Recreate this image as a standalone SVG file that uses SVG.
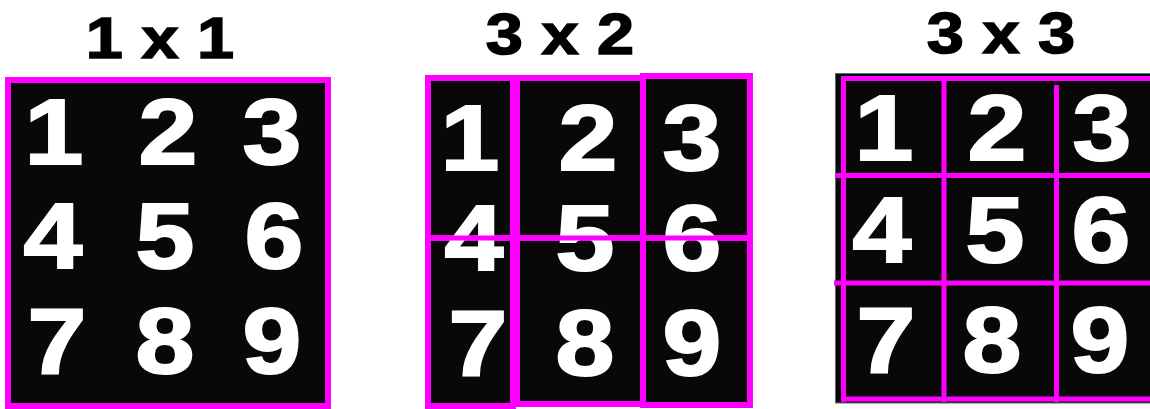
<svg xmlns="http://www.w3.org/2000/svg" width="1150" height="409" viewBox="0 0 1150 409">
<style>
.title{font-family:"Liberation Sans",Arial,sans-serif;font-weight:bold;font-size:58px;fill:#000;stroke:#000;stroke-width:1.5;text-anchor:middle}
.dig{font-family:"Liberation Sans",Arial,sans-serif;font-weight:bold;font-size:92px;fill:#fff;stroke:#fff;stroke-width:2;text-anchor:middle}
.cell{fill:#080808;stroke:#ff00ff;stroke-width:6}
.mline{stroke:#ff00ff;stroke-width:5;fill:none}
</style>
<rect width="1150" height="409" fill="#fff"/>

<g id="panel-1x1">
<text class="title" transform="translate(160,58) scale(1.15,1)">1 x 1</text>
<rect class="cell" x="8" y="80" width="320" height="326"/>
<g id="p1-digits">
<text class="dig" transform="translate(54,164) scale(1.15,1)">1</text>
<text class="dig" transform="translate(168,164) scale(1.15,1)">2</text>
<text class="dig" transform="translate(272,164) scale(1.15,1)">3</text>
<text class="dig" transform="translate(53,268) scale(1.15,1)">4</text>
<text class="dig" transform="translate(165,268) scale(1.15,1)">5</text>
<text class="dig" transform="translate(274,268) scale(1.15,1)">6</text>
<text class="dig" transform="translate(57,373) scale(1.15,1)">7</text>
<text class="dig" transform="translate(165,373) scale(1.15,1)">8</text>
<text class="dig" transform="translate(272,373) scale(1.15,1)">9</text>
</g>
</g>

<g id="panel-3x2">
<text class="title" transform="translate(560,54) scale(1.15,1)">3 x 2</text>
<g id="p2-cells">
<rect class="cell" x="428" y="78" width="85" height="160"/>
<rect class="cell" x="517" y="78" width="126" height="160"/>
<rect class="cell" x="643" y="76" width="107" height="162"/>
<rect class="cell" x="428" y="238" width="85" height="168"/>
<rect class="cell" x="517" y="238" width="126" height="166"/>
<rect class="cell" x="643" y="238" width="107" height="167"/>
</g>
<g id="p2-digits">
<text class="dig" transform="translate(470,170) scale(1.15,1)">1</text>
<text class="dig" transform="translate(588,170) scale(1.15,1)">2</text>
<text class="dig" transform="translate(692,170) scale(1.15,1)">3</text>
<text class="dig" transform="translate(474,270) scale(1.15,1)">4</text>
<text class="dig" transform="translate(585,270) scale(1.15,1)">5</text>
<text class="dig" transform="translate(692,270) scale(1.15,1)">6</text>
<text class="dig" transform="translate(478,375) scale(1.15,1)">7</text>
<text class="dig" transform="translate(585,375) scale(1.15,1)">8</text>
<text class="dig" transform="translate(692,375) scale(1.15,1)">9</text>
</g>
<line class="mline" x1="425" y1="238" x2="753" y2="238" stroke-width="6"/>
</g>

<g id="panel-3x3">
<text class="title" transform="translate(1001,53) scale(1.15,1)">3 x 3</text>
<rect x="835.5" y="73.5" width="320" height="329.5" fill="#080808" stroke="#666" stroke-width="1"/>
<g id="p3-grid">
<line class="mline" x1="841" y1="78.5" x2="1150" y2="78.5"/>
<line class="mline" x1="841" y1="399" x2="1150" y2="399"/>
<line class="mline" x1="843.5" y1="76" x2="843.5" y2="402"/>
<line class="mline" x1="944" y1="76" x2="944" y2="402"/>
<line class="mline" x1="1056.5" y1="85" x2="1056.5" y2="402"/>
<line class="mline" x1="836" y1="175.5" x2="1150" y2="175.5"/>
<line class="mline" x1="834" y1="283" x2="1150" y2="283"/>
</g>
<g id="p3-digits">
<text class="dig" transform="translate(884,160) scale(1.15,1)">1</text>
<text class="dig" transform="translate(997,160) scale(1.15,1)">2</text>
<text class="dig" transform="translate(1102,160) scale(1.15,1)">3</text>
<text class="dig" transform="translate(882,262) scale(1.15,1)">4</text>
<text class="dig" transform="translate(995,262) scale(1.15,1)">5</text>
<text class="dig" transform="translate(1101,262) scale(1.15,1)">6</text>
<text class="dig" transform="translate(886,372) scale(1.15,1)">7</text>
<text class="dig" transform="translate(992,372) scale(1.15,1)">8</text>
<text class="dig" transform="translate(1100,372) scale(1.15,1)">9</text>
</g>
</g>
</svg>
